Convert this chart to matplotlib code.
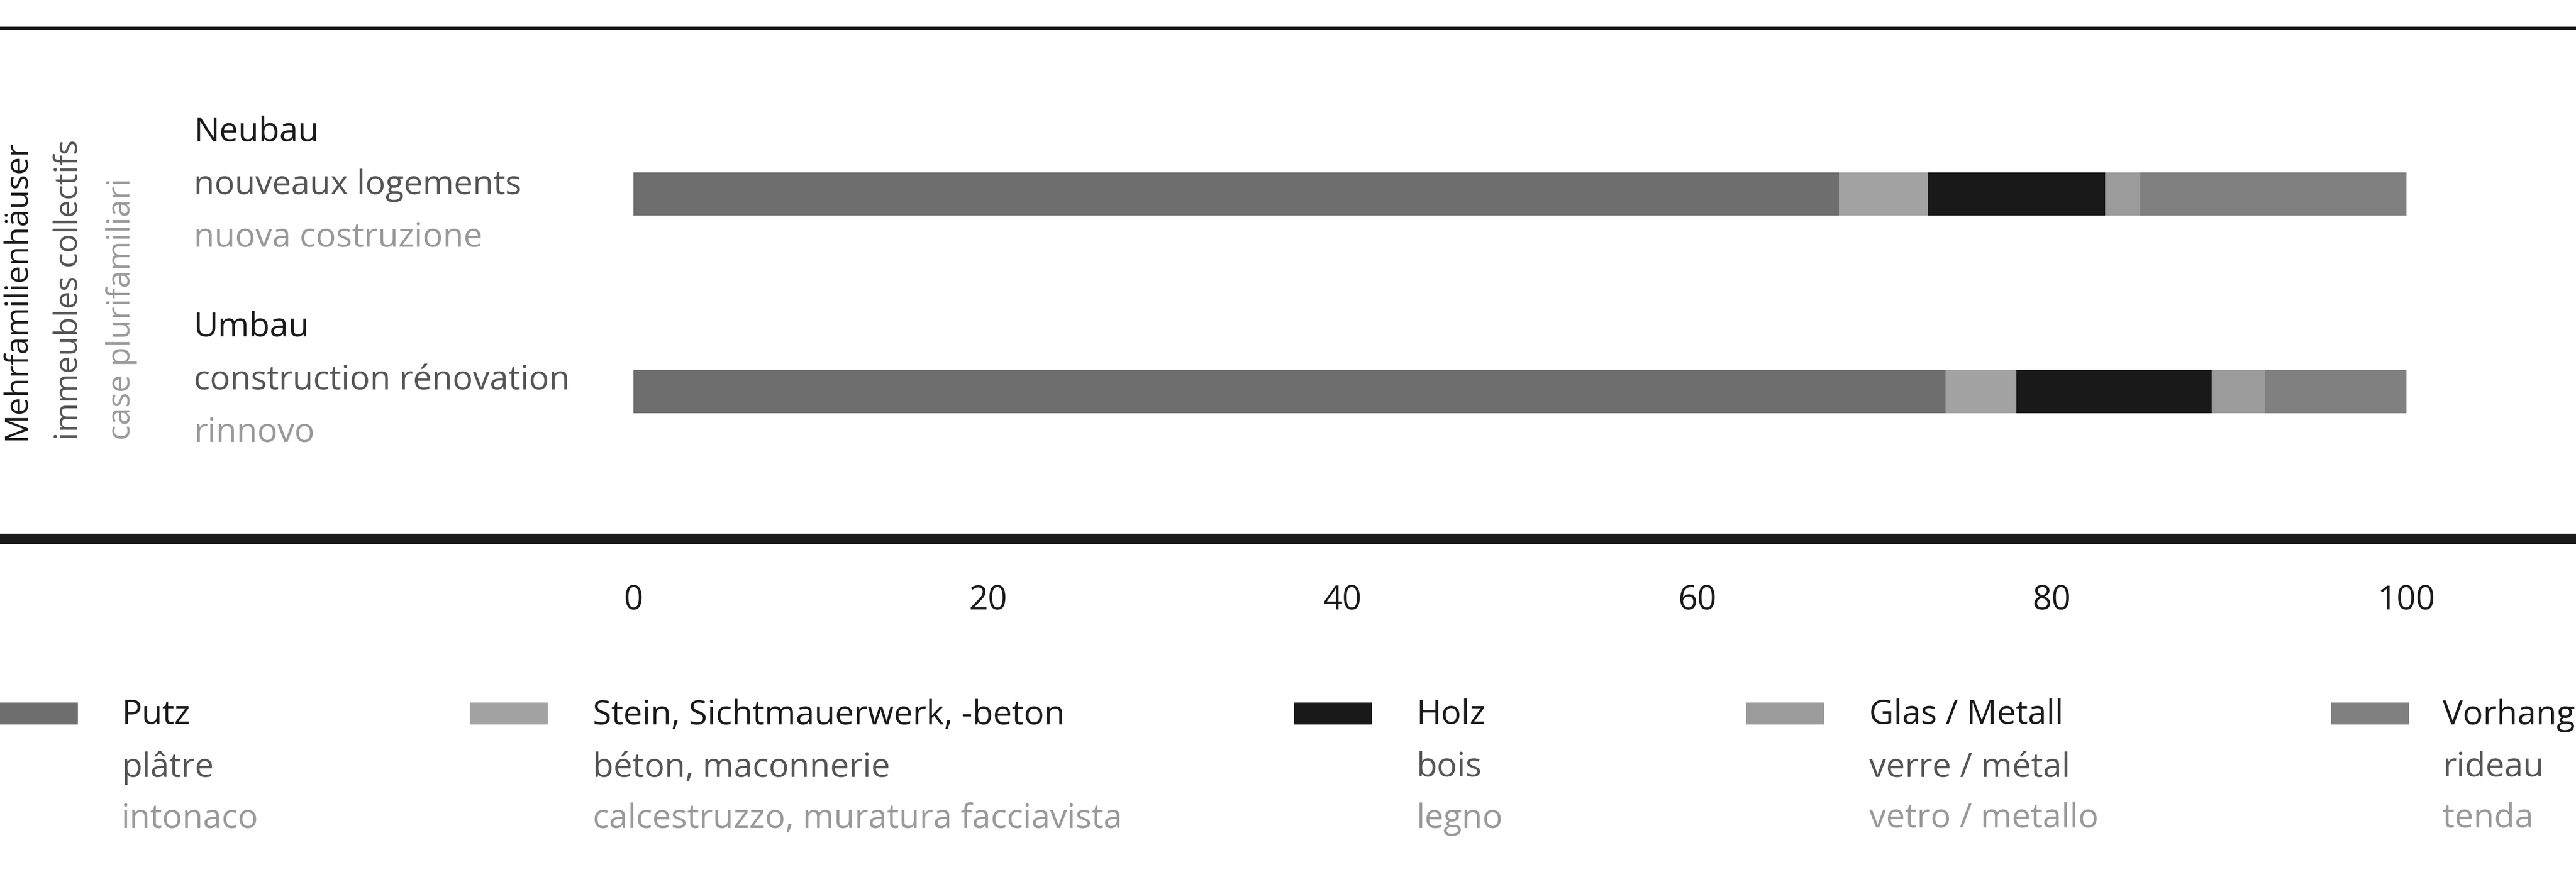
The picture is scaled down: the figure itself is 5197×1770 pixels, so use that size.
import matplotlib.pyplot as plt
from matplotlib.lines import Line2D
from matplotlib.patches import Rectangle

plt.rcParams['font.family'] = ['Open Sans', 'DejaVu Sans']

# Daten
rows = ['Neubau', 'Umbau']
row_labels = [
    ['Neubau', 'nouveaux logements', 'nuova costruzione'],
    ['Umbau', 'construction rénovation', 'rinnovo'],
]
materials = ['Putz', 'Stein', 'Holz', 'Glas', 'Vorhang']
values = {
    'Putz':    [68, 74],
    'Stein':   [5, 4],
    'Holz':    [10, 11],
    'Glas':    [2, 3],
    'Vorhang': [15, 8],
}
colors = ['#6e6e6e', '#a3a3a3', '#191919', '#9b9b9b', '#808080']
legend_texts = [
    ['Putz', 'plâtre', 'intonaco'],
    ['Stein, Sichtmauerwerk, -beton', 'béton, maconnerie', 'calcestruzzo, muratura facciavista'],
    ['Holz', 'bois', 'legno'],
    ['Glas / Metall', 'verre / métal', 'vetro / metallo'],
    ['Vorhang', 'rideau', 'tenda'],
]
group_label = ['Mehrfamilienhäuser', 'immeubles collectifs', 'case plurifamiliari']
xticks = [0, 20, 40, 60, 80, 100]

text_colors = ['#1a1a1a', '#555555', '#999999']
W, H = 5197, 1770
fs = 49      # horizontale Texte
fs_v = 46    # vertikale Gruppenbeschriftung

fig = plt.figure(figsize=(W / 100, H / 100), dpi=100)

# Achse (Pixel -> Figurkoordinaten)
x0, x1 = 1278, 4855
y_top, y_bot = 56, 1087
ax = fig.add_axes([x0 / W, 1 - y_bot / H, (x1 - x0) / W, (y_bot - y_top) / H])

left = [0, 0]
for m, c in zip(materials, colors):
    ax.barh([0, 1], values[m], left=left, height=0.218, color=c)
    left = [a + b for a, b in zip(left, values[m])]

ax.set_xlim(0, 100)
ax.set_ylim(1.744, -0.84)
ax.set_yticks([])
ax.set_xticks(xticks)
ax.set_xticklabels([str(t) for t in xticks], fontsize=fs, color='#1a1a1a')
ax.tick_params(axis='x', length=0, pad=66)
for s in ax.spines.values():
    s.set_visible(False)

# Linien über die ganze Breite
fig.add_artist(Line2D([0, 1], [1 - 57 / H, 1 - 57 / H], color='#1a1a1a', lw=4.3))
fig.add_artist(Line2D([0, 1], [1 - 1087 / H, 1 - 1087 / H], color='#1a1a1a', lw=15))

# Gruppenbeschriftung (vertikal)
for i, (txt, xc) in enumerate(zip(group_label, [33, 139, 245])):
    fig.text(xc / W, 1 - 888 / H, txt, rotation=90, ha='center', va='bottom',
             fontsize=fs_v, color=text_colors[i])

# Zeilenbeschriftungen
for r, ys in zip(row_labels, [[268, 374, 480], [662, 768, 874]]):
    for i, (txt, y) in enumerate(zip(r, ys)):
        fig.text(391 / W, 1 - y / H, txt, ha='left', va='center',
                 fontsize=fs, color=text_colors[i])

# Legende
sw_x = [0, 948, 2611, 3523, 4703]
tx_x = [245, 1196, 2857, 3771, 4928]
for k in range(len(materials)):
    fig.add_artist(Rectangle((sw_x[k] / W, 1 - 1461 / H), 156 / W, 43 / H,
                             color=colors[k], transform=fig.transFigure))
    for i, (txt, y) in enumerate(zip(legend_texts[k], [1444, 1550, 1653])):
        fig.text(tx_x[k] / W, 1 - y / H, txt, ha='left', va='center',
                 fontsize=fs, color=text_colors[i])

fig.savefig('out.png', dpi=100)
